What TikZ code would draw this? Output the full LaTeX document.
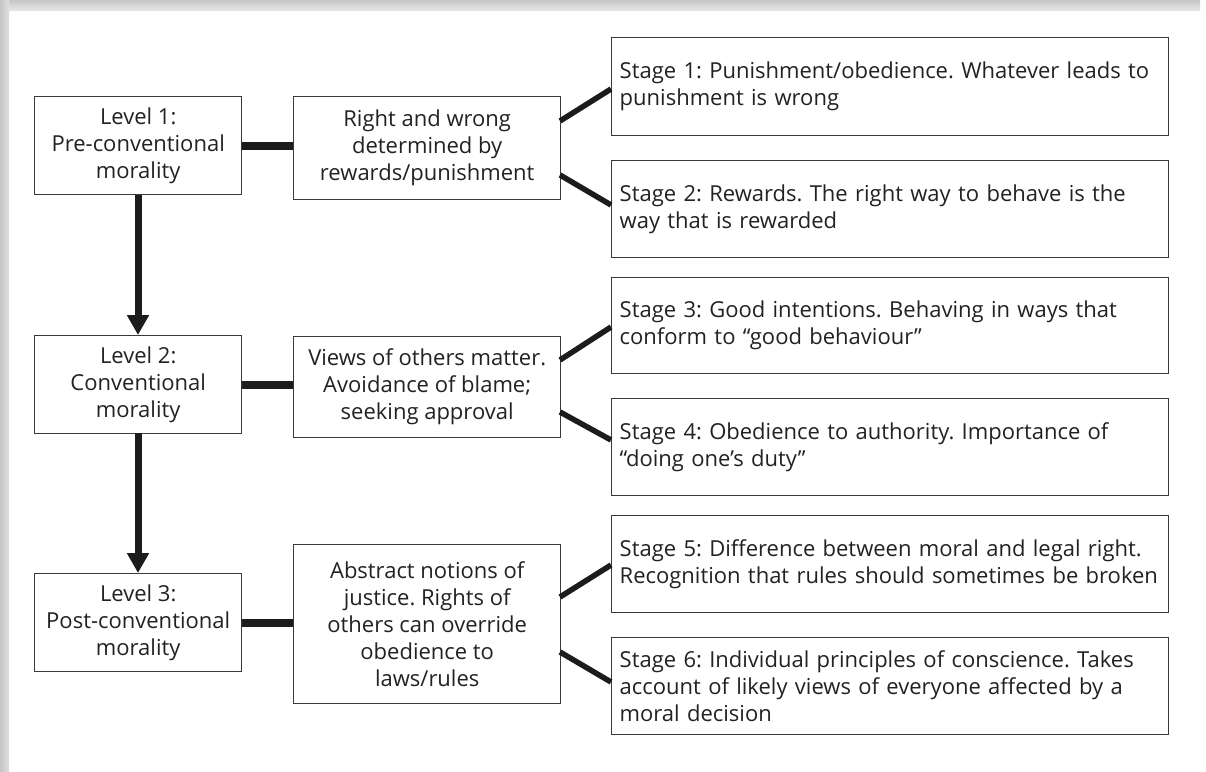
\documentclass[tikz,border=0pt]{standalone}
\usepackage{fontspec}
\setmainfont{Open Sans}
\usetikzlibrary{arrows.meta}
\definecolor{txt}{HTML}{222222}
\definecolor{bord}{HTML}{3A3A3A}
\definecolor{conn}{HTML}{1C1C1C}
\frenchspacing
\begin{document}
\begin{tikzpicture}[x=1pt,y=-1pt,
  every node/.style={font=\fontsize{22}{27}\selectfont, text=txt},
  lvbox/.style={draw=bord, line width=1.4pt, rectangle, anchor=north west, minimum width=207pt, minimum height=98pt, align=center, inner sep=0pt},
  midbox/.style={draw=bord, line width=1.4pt, rectangle, anchor=north west, minimum width=267pt, align=center, inner sep=0pt},
  stbox/.style={draw=bord, line width=1.4pt, rectangle, anchor=north west, minimum width=557pt, text width=541pt, align=left, inner xsep=8pt, inner ysep=0pt},
  hconn/.style={draw=conn, line width=8pt},
  dconn/.style={draw=conn, line width=5.5pt},
  vconn/.style={draw=conn, line width=7pt, -{Triangle[length=20pt,width=21pt]}}
]
\useasboundingbox (0,0) rectangle (1206,771);
% frame shadow
\fill[white] (0,0) rectangle (1206,771);
\shade[top color=gray!45, bottom color=gray!20] (0,0) rectangle (1200,10);
\shade[left color=gray!45, right color=gray!25] (0,0) rectangle (9,771);

% level boxes
\node[lvbox] (l1) at (34,96) {Level 1:\\Pre-conventional\\morality};
\node[lvbox] (l2) at (34,335) {Level 2:\\Conventional\\morality};
\node[lvbox] (l3) at (34,573) {Level 3:\\Post-conventional\\morality};

% middle boxes
\node[midbox, minimum height=103pt] (m1) at (293,96) {Right and wrong\\determined by\\rewards/punishment};
\node[midbox, minimum height=101pt] (m2) at (293,336) {Views of others matter.\\Avoidance of blame;\\seeking approval};
\node[midbox, minimum height=159pt] (m3) at (293,544) {Abstract notions of\\justice. Rights of\\others can override\\obedience to\\laws/rules};

% stage boxes
\node[stbox, minimum height=98pt] (s1) at (611,37) {\mbox{Stage 1: Punishment/obedience. Whatever leads to}\\punishment is wrong};
\node[stbox, minimum height=97pt] (s2) at (611,160) {\mbox{Stage 2: Rewards. The right way to behave is the}\\way that is rewarded};
\node[stbox, minimum height=96pt] (s3) at (611,277) {\mbox{Stage 3: Good intentions. Behaving in ways that}\\conform to “good behaviour”};
\node[stbox, minimum height=97pt] (s4) at (611,398) {\mbox{Stage 4: Obedience to authority. Importance of}\\“doing one’s duty”};
\node[stbox, minimum height=97pt] (s5) at (611,515) {\mbox{Stage 5: Difference between moral and legal right.}\\\mbox{Recognition that rules should sometimes be broken}};
\node[stbox, minimum height=97pt] (s6) at (611,637) {\mbox{Stage 6: Individual principles of conscience. Takes}\\\mbox{account of likely views of everyone affected by a}\\moral decision};

% horizontal connectors
\draw[hconn] (l1.east) -- (m1.west |- l1.east);
\draw[hconn] (l2.east) -- (m2.west |- l2.east);
\draw[hconn] (l3.east) -- (m3.west |- l3.east);

% diagonal connectors
\coordinate (m1a) at (560,121); \coordinate (s1a) at (611,89);
\coordinate (m1b) at (560,175); \coordinate (s2a) at (611,205);
\coordinate (m2a) at (560,360); \coordinate (s3a) at (611,327);
\coordinate (m2b) at (560,412); \coordinate (s4a) at (611,440);
\coordinate (m3a) at (560,597); \coordinate (s5a) at (611,565);
\coordinate (m3b) at (560,652); \coordinate (s6a) at (611,682);
\draw[dconn] (m1a) -- (s1a);
\draw[dconn] (m1b) -- (s2a);
\draw[dconn] (m2a) -- (s3a);
\draw[dconn] (m2b) -- (s4a);
\draw[dconn] (m3a) -- (s5a);
\draw[dconn] (m3b) -- (s6a);

% vertical arrows
\draw[vconn] (138,195) -- (138,335);
\draw[vconn] (138,433) -- (138,573);
\end{tikzpicture}
\end{document}
